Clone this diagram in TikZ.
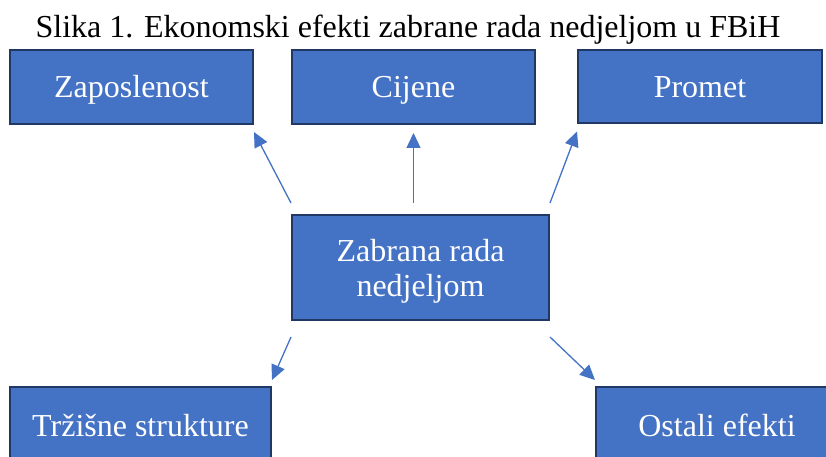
\documentclass[tikz,border=0pt]{standalone}
\usepackage{fontspec}
\setmainfont{Liberation Serif}
\usepackage{tikz}
\usetikzlibrary{arrows.meta}

\definecolor{boxblue}{RGB}{68,114,196}
\definecolor{boxedge}{RGB}{31,56,100}

\tikzset{
	effect/.style={draw=boxedge,line width=2pt,fill=boxblue,text=white,inner sep=0pt,align=center,
		text height=22pt,text depth=0pt,font=\fontsize{32}{35}\selectfont},
	link/.style={color=boxblue,line width=1.3pt,-{Triangle[length=15pt,width=14pt]}}
}

\begin{document}
\begin{tikzpicture}[x=1pt,y=-1pt]
	\clip (0,0) rectangle (826,457);
	%
	%  TITLE
	%
	\node[anchor=base,font=\fontsize{32}{35}\selectfont] (title) at (408,38) {Slika 1. Ekonomski efekti zabrane rada nedjeljom u FBiH};
	%
	%  BOXES
	%
	\node[effect,minimum width=243pt,minimum height=74pt] (zap) at (131.5,87) {Zaposlenost};
	\node[effect,minimum width=243pt,minimum height=74pt] (cij) at (413.5,87) {Cijene};
	\node[effect,minimum width=244pt,minimum height=73pt] (pro) at (700,87) {Promet};
	\node[effect,minimum width=257pt,minimum height=105pt,text height=57pt] (zab) at (420.5,267.5) {Zabrana rada\\nedjeljom};
	\node[effect,minimum width=261pt,minimum height=76pt] (trz) at (140.5,425) {Tržišne strukture};
	\node[effect,minimum width=242pt,minimum height=76pt] (ost) at (717,425) {Ostali efekti};
	%
	%  ARROWS
	%
	\draw[link] ([yshift=11pt]zab.north west) -- ([yshift=-7pt]zap.south east);
	\draw[link] ([yshift=11pt]cij.south |- zab.north) -- ([yshift=-8pt]cij.south);
	\draw[link] ([yshift=11pt]zab.north east) -- ([yshift=-7pt]pro.south west);
	\draw[link] ([yshift=-16pt]zab.south west) -- ([yshift=6pt]trz.north east);
	\draw[link] ([yshift=-16pt]zab.south east) -- ([yshift=6pt]ost.north west);
\end{tikzpicture}
\end{document}
